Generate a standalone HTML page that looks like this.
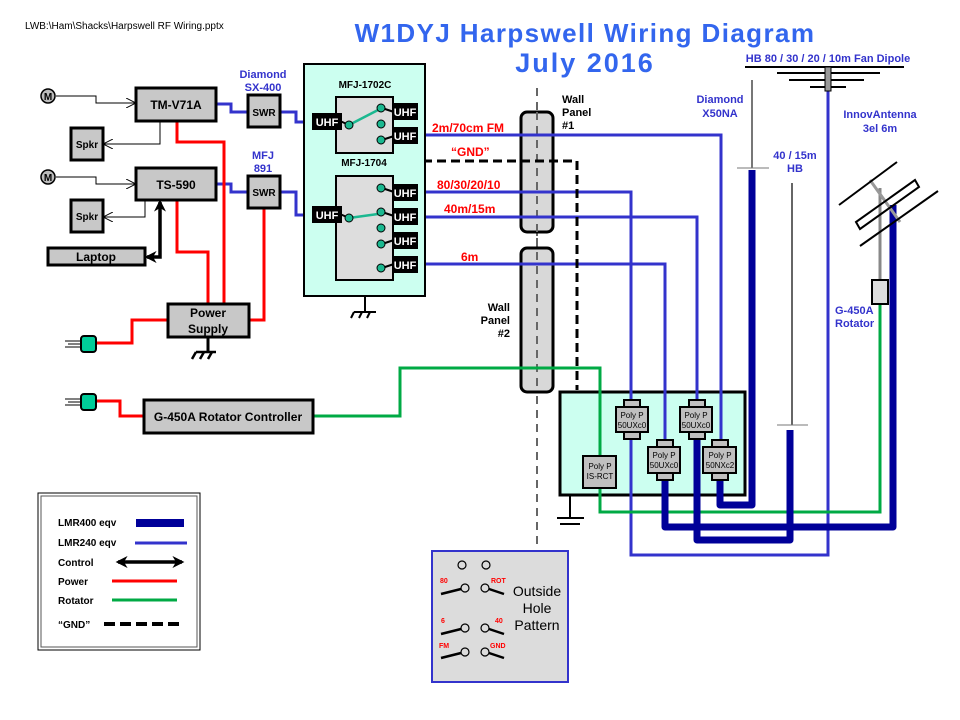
<!DOCTYPE html>
<html><head><meta charset="utf-8"><style>
html,body{margin:0;padding:0;background:#fff;}
svg{display:block;font-family:"Liberation Sans",Arial,sans-serif;}
.b{font-weight:bold;}
</style></head><body>
<svg width="960" height="720" viewBox="0 0 960 720" xmlns="http://www.w3.org/2000/svg">
<defs>
<marker id="ah" viewBox="0 0 10 10" refX="9" refY="5" markerWidth="10" markerHeight="10" orient="auto" markerUnits="userSpaceOnUse"><path d="M0,0 L10,5 L0,10" fill="none" stroke="#000" stroke-width="1"/></marker>
<marker id="ch" viewBox="0 0 10 10" refX="8" refY="5" markerWidth="12" markerHeight="12" orient="auto-start-reverse" markerUnits="userSpaceOnUse"><path d="M0,0 L10,5 L0,10 L3,5z" fill="#000"/></marker>
</defs>
<text x="25" y="29" font-size="10">LWB:\Ham\Shacks\Harpswell RF Wiring.pptx</text>
<text x="585" y="42" font-size="26" class="b" fill="#3366ee" text-anchor="middle" letter-spacing="1.4">W1DYJ Harpswell Wiring Diagram</text>
<text x="585" y="72" font-size="27" class="b" fill="#3366ee" text-anchor="middle" letter-spacing="2">July 2016</text>

<line x1="537" y1="88" x2="537" y2="682" stroke="#666" stroke-width="2" stroke-dasharray="8,6"/>
<rect x="521" y="112" width="32" height="120" rx="6" fill="#d8d8d8" stroke="#000" stroke-width="3"/>
<rect x="521" y="248" width="32" height="144" rx="6" fill="#d8d8d8" stroke="#000" stroke-width="3"/>
<line x1="537" y1="112" x2="537" y2="392" stroke="#666" stroke-width="2" stroke-dasharray="8,6"/>
<g font-size="11" class="b">
<text x="562" y="103">Wall</text><text x="562" y="116">Panel</text><text x="562" y="129">#1</text>
<text x="510" y="311" text-anchor="end">Wall</text><text x="510" y="324" text-anchor="end">Panel</text><text x="510" y="337" text-anchor="end">#2</text>
</g>

<rect x="560" y="392" width="185" height="103" fill="#ccfff0" stroke="#000" stroke-width="3"/>
<line x1="570" y1="495" x2="570" y2="517" stroke="#000" stroke-width="2"/>
<line x1="557" y1="518" x2="584" y2="518" stroke="#000" stroke-width="2"/>
<line x1="560" y1="524" x2="580" y2="524" stroke="#000" stroke-width="2"/>

<g fill="none" stroke="#3333cc" stroke-width="3">
<polyline points="418,135 721,135 721,440"/>
<polyline points="418,192 631,192 631,400"/>
<polyline points="418,217 697,217 697,400"/>
<polyline points="418,264 665,264 665,440"/>
<polyline points="631,438 631,555 828,555 828,91"/>
<polyline points="216,104 231,104 231,112 248,112"/>
<polyline points="280,112 296,112 296,122 312,122"/>
<polyline points="216,184 231,184 231,192 248,192"/>
<polyline points="280,192 296,192 296,215 312,215"/>
</g>
<polyline points="423,161 577,161 577,390" fill="none" stroke="#000" stroke-width="3" stroke-dasharray="9,5"/>
<g fill="none" stroke="#00aa44" stroke-width="3">
<polyline points="313,416 400,416 400,368 600,368 600,456"/>
<polyline points="600,488 600,512 880,512 880,304"/>
</g>
<g fill="none" stroke="#000099" stroke-width="7" stroke-linejoin="round">
<polyline points="720,480 720,505 752,505 752,170"/>
<polyline points="665,480 665,527 893,527 893,205"/>
<polyline points="697,438 697,540 790,540 790,430"/>
</g>

<g stroke="#000" stroke-width="2" fill="#c0c0c0">
<rect x="624" y="400" width="16" height="8"/><rect x="624" y="431" width="16" height="8"/><rect x="616" y="407" width="32" height="25"/>
<rect x="689" y="400" width="16" height="8"/><rect x="689" y="431" width="16" height="8"/><rect x="680" y="407" width="32" height="25"/>
<rect x="657" y="440" width="16" height="8"/><rect x="657" y="472" width="16" height="8"/><rect x="648" y="447" width="32" height="26"/>
<rect x="712" y="440" width="16" height="8"/><rect x="712" y="472" width="16" height="8"/><rect x="703" y="447" width="33" height="26"/>
<rect x="583" y="456" width="33" height="32"/>
</g>
<g font-size="8" text-anchor="middle">
<text x="632" y="418">Poly P</text><text x="632" y="428">50UXc0</text>
<text x="696" y="418">Poly P</text><text x="696" y="428">50UXc0</text>
<text x="664" y="458">Poly P</text><text x="664" y="468">50UXc0</text>
<text x="720" y="458">Poly P</text><text x="720" y="468">50NXc2</text>
<text x="600" y="469">Poly P</text><text x="600" y="479">IS-RCT</text>
</g>

<line x1="752" y1="80" x2="752" y2="168" stroke="#777" stroke-width="2"/>
<line x1="737" y1="168" x2="769" y2="168" stroke="#777" stroke-width="1"/>
<line x1="792" y1="183" x2="792" y2="425" stroke="#666" stroke-width="2"/>
<line x1="777" y1="425" x2="808" y2="425" stroke="#777" stroke-width="1"/>
<g stroke="#000" stroke-width="2">
<line x1="745" y1="67" x2="904" y2="67"/><line x1="777" y1="73" x2="880" y2="73"/>
<line x1="789" y1="80" x2="864" y2="80"/><line x1="810" y1="87" x2="846" y2="87"/>
</g>
<rect x="825" y="67" width="6" height="24" fill="#999" stroke="#000" stroke-width="1"/>
<g font-size="11" class="b" fill="#3333cc" text-anchor="middle">
<text x="828" y="62">HB 80 / 30 / 20 / 10m Fan Dipole</text>
<text x="720" y="103">Diamond</text><text x="720" y="117">X50NA</text>
<text x="795" y="159">40 / 15m</text><text x="795" y="172">HB</text>
<text x="880" y="118">InnovAntenna</text><text x="880" y="132">3el 6m</text>
<text x="835" y="314" text-anchor="start">G-450A</text><text x="835" y="327" text-anchor="start">Rotator</text>
<text x="263" y="78">Diamond</text><text x="263" y="91">SX-400</text>
<text x="263" y="159">MFJ</text><text x="263" y="172">891</text>
</g>
<line x1="880" y1="188" x2="880" y2="280" stroke="#888" stroke-width="3"/>
<line x1="870" y1="180" x2="900" y2="222" stroke="#999" stroke-width="3"/>
<g stroke="#000" stroke-width="2" fill="none">
<line x1="839" y1="205" x2="897" y2="162"/>
<line x1="860" y1="246" x2="938" y2="191"/>
<polygon points="856,222 915,180 919,187 860,229"/>
</g>
<rect x="872" y="280" width="16" height="24" fill="#ddd" stroke="#000" stroke-width="2"/>

<rect x="304" y="64" width="121" height="232" fill="#ccfff0" stroke="#000" stroke-width="2"/>
<line x1="365" y1="296" x2="365" y2="312" stroke="#000" stroke-width="2"/>
<g stroke="#000" stroke-width="2"><line x1="354" y1="312" x2="376" y2="312"/><line x1="354" y1="312" x2="351" y2="318"/><line x1="362" y1="312" x2="359" y2="318"/><line x1="370" y1="312" x2="367" y2="318"/></g>
<text x="365" y="88" font-size="10" class="b" text-anchor="middle">MFJ-1702C</text>
<text x="364" y="166" font-size="10" class="b" text-anchor="middle">MFJ-1704</text>
<rect x="336" y="97" width="57" height="56" fill="#ddd" stroke="#000" stroke-width="2"/>
<rect x="336" y="176" width="57" height="104" fill="#ddd" stroke="#000" stroke-width="2"/>
<g stroke="#000" stroke-width="2">
<line x1="340" y1="121" x2="349" y2="125"/><line x1="340" y1="214" x2="349" y2="218"/>
<line x1="382" y1="108" x2="394" y2="112"/><line x1="382" y1="140" x2="394" y2="136"/>
<line x1="382" y1="188" x2="394" y2="192"/><line x1="382" y1="212" x2="394" y2="216"/>
<line x1="382" y1="244" x2="394" y2="240"/><line x1="382" y1="268" x2="394" y2="264"/>
</g>
<g stroke="#1bb890" stroke-width="2.5"><line x1="349" y1="125" x2="378" y2="110"/><line x1="349" y1="218" x2="378" y2="214"/></g>
<g fill="#1bb890" stroke="#000" stroke-width="1">
<circle cx="349" cy="125" r="4"/><circle cx="381" cy="108" r="4"/><circle cx="381" cy="124" r="4"/><circle cx="381" cy="140" r="4"/>
<circle cx="349" cy="218" r="4"/><circle cx="381" cy="188" r="4"/><circle cx="381" cy="212" r="4"/><circle cx="381" cy="228" r="4"/><circle cx="381" cy="244" r="4"/><circle cx="381" cy="268" r="4"/>
</g>
<g fill="#000">
<rect x="312" y="113" width="30" height="17"/><rect x="312" y="206" width="30" height="17"/>
<rect x="392" y="103" width="26" height="17"/><rect x="392" y="127" width="26" height="17"/>
<rect x="392" y="184" width="26" height="17"/><rect x="392" y="208" width="26" height="17"/><rect x="392" y="232" width="26" height="17"/><rect x="392" y="256" width="26" height="17"/>
</g>
<g fill="#fff" font-size="11" class="b" text-anchor="middle">
<text x="327" y="126">UHF</text><text x="327" y="219">UHF</text>
<text x="405" y="116">UHF</text><text x="405" y="140">UHF</text>
<text x="405" y="197">UHF</text><text x="405" y="221">UHF</text><text x="405" y="245">UHF</text><text x="405" y="269">UHF</text>
</g>
<g fill="#ff0000" font-size="12" class="b">
<text x="432" y="132">2m/70cm FM</text><text x="451" y="156">“GND”</text>
<text x="437" y="189">80/30/20/10</text><text x="444" y="213">40m/15m</text><text x="461" y="261">6m</text>
</g>

<g fill="none" stroke="#ff0000" stroke-width="3">
<polyline points="177,121 177,142 224,142 224,304"/>
<polyline points="177,200 177,252 208,252 208,304"/>
<polyline points="264,208 264,320 249,320"/>
<polyline points="168,320 132,320 132,343 95,343"/>
<polyline points="95,401 120,401 120,416 144,416"/>
</g>
<g fill="none" stroke="#000" stroke-width="1">
<polyline points="56,96 96,96 96,103 135,103" marker-end="url(#ah)"/>
<polyline points="160,121 160,144 104,144" marker-end="url(#ah)"/>
<polyline points="56,177 96,177 96,184 135,184" marker-end="url(#ah)"/>
<polyline points="145,200 145,217 104,217" marker-end="url(#ah)"/>
</g>
<polyline points="147,257 160,257 160,202" fill="none" stroke="#000" stroke-width="3.5" marker-start="url(#ch)" marker-end="url(#ch)"/>

<g fill="#c8c8c8" stroke="#000" stroke-width="3">
<rect x="136" y="88" width="80" height="33"/><rect x="136" y="168" width="80" height="32"/>
<rect x="71" y="128" width="32" height="32"/><rect x="71" y="200" width="32" height="32"/>
<rect x="48" y="248" width="97" height="17"/>
<rect x="248" y="95" width="32" height="32"/><rect x="248" y="176" width="32" height="32"/>
<rect x="168" y="304" width="81" height="33"/>
<rect x="144" y="400" width="169" height="33"/>
</g>
<g font-size="12" class="b" text-anchor="middle">
<text x="176" y="109">TM-V71A</text><text x="176" y="189">TS-590</text>
<text x="87" y="148" font-size="10">Spkr</text><text x="87" y="220" font-size="10">Spkr</text>
<text x="96" y="261">Laptop</text>
<text x="264" y="116" font-size="10">SWR</text><text x="264" y="196" font-size="10">SWR</text>
<text x="208" y="317">Power</text><text x="208" y="333">Supply</text>
<text x="228" y="421">G-450A Rotator Controller</text>
</g>
<g fill="#bbb" stroke="#000" stroke-width="1.5"><circle cx="48" cy="96" r="7"/><circle cx="48" cy="177" r="7"/></g>
<g font-size="10" class="b" text-anchor="middle"><text x="48" y="100">M</text><text x="48" y="181">M</text></g>
<line x1="208" y1="337" x2="208" y2="352" stroke="#000" stroke-width="3"/>
<g stroke="#000" stroke-width="2.5"><line x1="196" y1="352" x2="216" y2="352"/><line x1="196" y1="352" x2="192" y2="359"/><line x1="204" y1="352" x2="200" y2="359"/><line x1="212" y1="352" x2="208" y2="359"/></g>
<g fill="#00cc99" stroke="#000" stroke-width="2"><rect x="81" y="336" width="15" height="16" rx="3"/><rect x="81" y="394" width="15" height="16" rx="3"/></g>
<g stroke="#000" stroke-width="1"><line x1="65" y1="341" x2="81" y2="341"/><line x1="68" y1="344" x2="81" y2="344"/><line x1="65" y1="347" x2="81" y2="347"/>
<line x1="65" y1="399" x2="81" y2="399"/><line x1="68" y1="402" x2="81" y2="402"/><line x1="65" y1="405" x2="81" y2="405"/></g>

<rect x="38" y="493" width="162" height="157" fill="#fff" stroke="#000" stroke-width="1"/>
<rect x="41" y="496" width="156" height="151" fill="none" stroke="#555" stroke-width="1"/>
<g font-size="10" class="b">
<text x="58" y="526">LMR400 eqv</text><text x="58" y="546">LMR240 eqv</text><text x="58" y="566">Control</text>
<text x="58" y="585">Power</text><text x="58" y="604">Rotator</text><text x="58" y="628">“GND”</text>
</g>
<line x1="136" y1="523" x2="184" y2="523" stroke="#000099" stroke-width="8"/>
<line x1="135" y1="543" x2="187" y2="543" stroke="#3333cc" stroke-width="3"/>
<line x1="118" y1="562" x2="182" y2="562" stroke="#000" stroke-width="3.5" marker-start="url(#ch)" marker-end="url(#ch)"/>
<line x1="112" y1="581" x2="177" y2="581" stroke="#ff0000" stroke-width="3"/>
<line x1="112" y1="600" x2="177" y2="600" stroke="#00aa44" stroke-width="3"/>
<line x1="104" y1="624" x2="180" y2="624" stroke="#000" stroke-width="4" stroke-dasharray="11,5"/>

<rect x="432" y="551" width="136" height="131" fill="#dcdcdc" stroke="#3333cc" stroke-width="2"/>
<g fill="none" stroke="#000" stroke-width="1.2">
<circle cx="462" cy="565" r="4"/><circle cx="486" cy="565" r="4"/>
<circle cx="465" cy="588" r="4"/><circle cx="485" cy="588" r="4"/>
<circle cx="465" cy="628" r="4"/><circle cx="485" cy="628" r="4"/>
<circle cx="465" cy="652" r="4"/><circle cx="485" cy="652" r="4"/>
</g>
<g stroke="#000" stroke-width="2.5">
<line x1="441" y1="594" x2="461" y2="589"/><line x1="489" y1="589" x2="504" y2="594"/>
<line x1="441" y1="634" x2="461" y2="629"/><line x1="489" y1="629" x2="504" y2="634"/>
<line x1="441" y1="658" x2="461" y2="653"/><line x1="489" y1="653" x2="504" y2="658"/>
</g>
<g fill="#ff0000" font-size="7" class="b">
<text x="440" y="583">80</text><text x="491" y="583">ROT</text>
<text x="441" y="623">6</text><text x="495" y="623">40</text>
<text x="439" y="648">FM</text><text x="490" y="648">GND</text>
</g>
<g font-size="14" text-anchor="middle"><text x="537" y="596">Outside</text><text x="537" y="613">Hole</text><text x="537" y="630">Pattern</text></g>
</svg>
</body></html>
